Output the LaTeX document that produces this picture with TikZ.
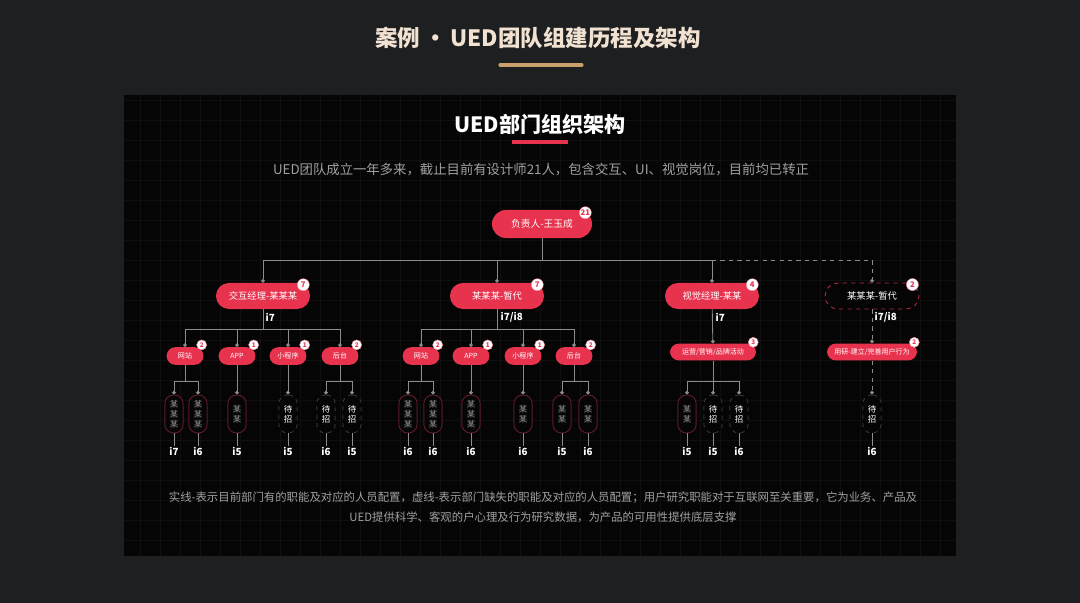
\documentclass[tikz,border=0pt]{standalone}
\usepackage{fontspec}
\setmainfont{Noto Sans CJK SC}
\usetikzlibrary{positioning, calc, arrows.meta}

\definecolor{pagebg}{HTML}{1E1F21}
\definecolor{panelbg}{HTML}{050505}
\definecolor{gridgray}{HTML}{0F0F0F}
\definecolor{pillred}{HTML}{E8334F}
\definecolor{goldline}{HTML}{C9A06C}
\definecolor{titlecream}{HTML}{F2E2D2}
\definecolor{notegray}{HTML}{A0A0A0}
\definecolor{wiregray}{HTML}{8C8C8C}
\definecolor{leafred}{HTML}{5E1A26}
\definecolor{leafgray}{HTML}{333333}

\tikzset{
  % Page and panel
  pagetitle/.style  = { text=titlecream, font=\fontsize{16}{18}\selectfont\bfseries },
  paneltitle/.style = { text=white, font=\fontsize{15}{17}\selectfont\bfseries },
  panelnote/.style  = { text=notegray, font=\fontsize{9.5}{11}\selectfont },
  footernote/.style = { text=notegray, align=center, font=\fontsize{8.1}{14}\selectfont },
  % Org chart
  headpill/.style   = { fill=pillred, text=white, rounded corners=0.35cm, minimum width=2.5cm,
                        minimum height=0.7cm, font=\fontsize{6.9}{8}\selectfont },
  leadpill/.style   = { fill=pillred, text=white, rounded corners=0.325cm, minimum width=2.35cm,
                        minimum height=0.65cm, font=\fontsize{6.6}{8}\selectfont },
  vacantlead/.style = { leadpill, fill=panelbg, draw=pillred!80!black, dashed, line width=0.6pt },
  rolepill/.style   = { fill=pillred, text=white, rounded corners=0.22cm, minimum width=0.92cm,
                        minimum height=0.44cm, inner sep=1pt, font=\fontsize{5}{6}\selectfont },
  staffpill/.style  = { draw=leafred, line width=0.7pt, fill=panelbg, rounded corners=0.22cm,
                        minimum width=0.46cm, minimum height=0.95cm, inner sep=0, align=center,
                        text=gray!80, font=\fontsize{6}{7}\selectfont },
  vacantstaff/.style= { staffpill, draw=leafgray, dashed, text=white },
  badge/.style      = { circle, fill=white, draw=pillred!60, line width=0.3pt, text=pillred,
                        minimum size=0.3cm, inner sep=0, font=\fontsize{5.5}{6}\selectfont\bfseries },
  smallbadge/.style = { badge, minimum size=0.25cm, font=\fontsize{4.5}{5}\selectfont\bfseries },
  grade/.style      = { text=white, inner sep=1pt, font=\fontsize{7}{8}\selectfont\bfseries },
  orgwire/.style    = { draw=wiregray, line width=0.6pt, -{Circle[length=2.6pt]} },
  openwire/.style   = { orgwire, dashed },
  every pin/.style  = { grade },
  every pin edge/.style = { draw=wiregray, line width=0.6pt },
  pin distance      = 0.3cm
}

\begin{document}
\begin{tikzpicture}[x=0.025cm, y=-0.025cm]

  % page, header and panel
  \fill[pagebg] (0,0) rectangle (1080,603);
  \useasboundingbox (0,0) rectangle (1080,603);
  \node[pagetitle] (title) at (538,38) {案例\,·\,UED团队组建历程及架构};
  \draw[goldline, line width=2.2pt, line cap=round] (500,65) -- (582,65);
  \fill[panelbg] (124,95) rectangle (956,556);
  \draw[gridgray, line width=0.3pt] (124,95) grid[step=0.5cm] (956,556);

  \node[paneltitle] (heading) at (540,124) {UED部门组织架构};
  \draw[pillred, line width=2.2pt] (512,142) -- (568,142);
  \node[panelnote] (intro) at (541,170) {UED团队成立一年多来，截止目前有设计师21人，包含交互、UI、视觉岗位，目前均已转正};

  % head and leads
  \node[headpill] (root) at (542,224) {负责人-王玉成};
  \node[badge] (rootbadge) at ([shift={(-7,3)}]root.north east) {21};

  \node[leadpill] (jiaohu) at (263,296) {交互经理-某某某};
  \node[leadpill] (sheji) at (497,296) {某某某-暂代};
  \node[leadpill] (shijue) at (712,296) {视觉经理-某某};
  \node[vacantlead] (yanjiu) at (872,296) {某某某-暂代};
  \node[badge] (jiaohubadge) at ([shift={(-7,2)}]jiaohu.north east) {7};
  \node[badge] (shejibadge) at ([shift={(-7,2)}]sheji.north east) {7};
  \node[badge] (shijuebadge) at ([shift={(-7,2)}]shijue.north east) {4};
  \node[badge] (yanjiubadge) at ([shift={(-7,2)}]yanjiu.north east) {2};

  \node[grade, anchor=west] (jiaohugrade) at ([shift={(1,8)}]jiaohu.south) {i7};
  \node[grade, anchor=west] (shejigrade) at ([shift={(2,8)}]sheji.south) {i7/i8};
  \node[grade, anchor=west] (shijuegrade) at ([shift={(2,8)}]shijue.south) {i7};
  \node[grade, anchor=west] (yanjiugrade) at ([shift={(1,8)}]yanjiu.south) {i7/i8};

  % roles
  \node[rolepill] (web1) at (185,356) {网站};
  \node[rolepill] (app1) at (237,356) {APP};
  \node[rolepill] (mini1) at (288,356) {小程序};
  \node[rolepill] (admin1) at (340,356) {后台};
  \node[rolepill] (web2) at (421,356) {网站};
  \node[rolepill] (app2) at (471,356) {APP};
  \node[rolepill] (mini2) at (523,356) {小程序};
  \node[rolepill] (admin2) at (574,356) {后台};
  \node[rolepill, minimum width=2.15cm, minimum height=0.42cm] (ops) at (713,352) {运营/营销/品牌活动};
  \node[rolepill, minimum width=2.25cm, minimum height=0.42cm] (research) at (872,352) {用研-建立/完善用户行为};

  \node[smallbadge] at ([shift={(-2,-2)}]web1.north east) {2};
  \node[smallbadge] at ([shift={(-2,-2)}]app1.north east) {1};
  \node[smallbadge] at ([shift={(-2,-2)}]mini1.north east) {1};
  \node[smallbadge] at ([shift={(-2,-2)}]admin1.north east) {2};
  \node[smallbadge] at ([shift={(-2,-2)}]web2.north east) {2};
  \node[smallbadge] at ([shift={(-2,-2)}]app2.north east) {1};
  \node[smallbadge] at ([shift={(-2,-2)}]mini2.north east) {1};
  \node[smallbadge] at ([shift={(-2,-2)}]admin2.north east) {2};
  \node[smallbadge] at ([shift={(-3,-1)}]ops.north east) {3};
  \node[smallbadge] at ([shift={(-3,-1)}]research.north east) {2};

  % staff
  \node[staffpill, pin=below:i7] (a1) at (174,414) {某\\某\\某};
  \node[staffpill, pin=below:i6] (a2) at (198,414) {某\\某\\某};
  \node[staffpill, pin=below:i5] (a3) at (237,414) {某\\某};
  \node[vacantstaff, pin=below:i5] (a4) at (288,414) {待\\招};
  \node[vacantstaff, pin=below:i6] (a5) at (326,414) {待\\招};
  \node[vacantstaff, pin=below:i5] (a6) at (352,414) {待\\招};
  \node[staffpill, pin=below:i6] (b1) at (408,414) {某\\某\\某};
  \node[staffpill, pin=below:i6] (b2) at (433,414) {某\\某\\某};
  \node[staffpill, pin=below:i6] (b3) at (471,414) {某\\某\\某};
  \node[staffpill, pin=below:i6] (b4) at (523,414) {某\\某};
  \node[staffpill, pin=below:i5] (b5) at (562,414) {某\\某};
  \node[staffpill, pin=below:i6] (b6) at (588,414) {某\\某};
  \node[staffpill, pin=below:i5] (c1) at (687,414) {某\\某};
  \node[vacantstaff, pin=below:i5] (c2) at (713,414) {待\\招};
  \node[vacantstaff, pin=below:i6] (c3) at (739,414) {待\\招};
  \node[vacantstaff, pin=below:i6] (d1) at (872,414) {待\\招};

  % wires
  \coordinate (rootbus) at (542,260);
  \coordinate (rootbusright) at (712,260);
  \draw[orgwire] (root) -- (rootbus) -| (jiaohu);
  \draw[orgwire] (root) -- (rootbus) -| (sheji);
  \draw[orgwire] (root) -- (rootbus) -| (shijue);
  \draw[openwire] (rootbusright) -| (yanjiu);

  \coordinate (jiaohubus) at (263,329);
  \coordinate (shejibus) at (497,329);
  \draw[orgwire] (jiaohu) -- (jiaohubus) -| (web1);
  \draw[orgwire] (jiaohu) -- (jiaohubus) -| (app1);
  \draw[orgwire] (jiaohu) -- (jiaohubus) -| (mini1);
  \draw[orgwire] (jiaohu) -- (jiaohubus) -| (admin1);
  \draw[orgwire] (sheji) -- (shejibus) -| (web2);
  \draw[orgwire] (sheji) -- (shejibus) -| (app2);
  \draw[orgwire] (sheji) -- (shejibus) -| (mini2);
  \draw[orgwire] (sheji) -- (shejibus) -| (admin2);
  \draw[orgwire] (shijue) -- (ops);
  \draw[openwire] (yanjiu) -- (research);

  \coordinate (web1bus) at (185,381);
  \coordinate (admin1bus) at (340,381);
  \coordinate (web2bus) at (421,381);
  \coordinate (admin2bus) at (574,381);
  \coordinate (opsbus) at (713,381);
  \draw[orgwire] (web1) -- (web1bus) -| (a1);
  \draw[orgwire] (web1) -- (web1bus) -| (a2);
  \draw[orgwire] (app1) -- (a3);
  \draw[orgwire] (mini1) -- (a4);
  \draw[orgwire] (admin1) -- (admin1bus) -| (a5);
  \draw[orgwire] (admin1) -- (admin1bus) -| (a6);
  \draw[orgwire] (web2) -- (web2bus) -| (b1);
  \draw[orgwire] (web2) -- (web2bus) -| (b2);
  \draw[orgwire] (app2) -- (b3);
  \draw[orgwire] (mini2) -- (b4);
  \draw[orgwire] (admin2) -- (admin2bus) -| (b5);
  \draw[orgwire] (admin2) -- (admin2bus) -| (b6);
  \draw[orgwire] (ops) -- (opsbus) -| (c1);
  \draw[orgwire] (ops) -- (c2);
  \draw[orgwire] (ops) -- (opsbus) -| (c3);
  \draw[openwire] (research) -- (d1);

  % note
  \node[footernote] (footer) at (543,507) {实线-表示目前部门有的职能及对应的人员配置，虚线-表示部门缺失的职能及对应的人员配置；用户研究职能对于互联网至关重要，它为业务、产品及\\UED提供科学、客观的户心理及行为研究数据，为产品的可用性提供底层支撑};

\end{tikzpicture}
\end{document}
